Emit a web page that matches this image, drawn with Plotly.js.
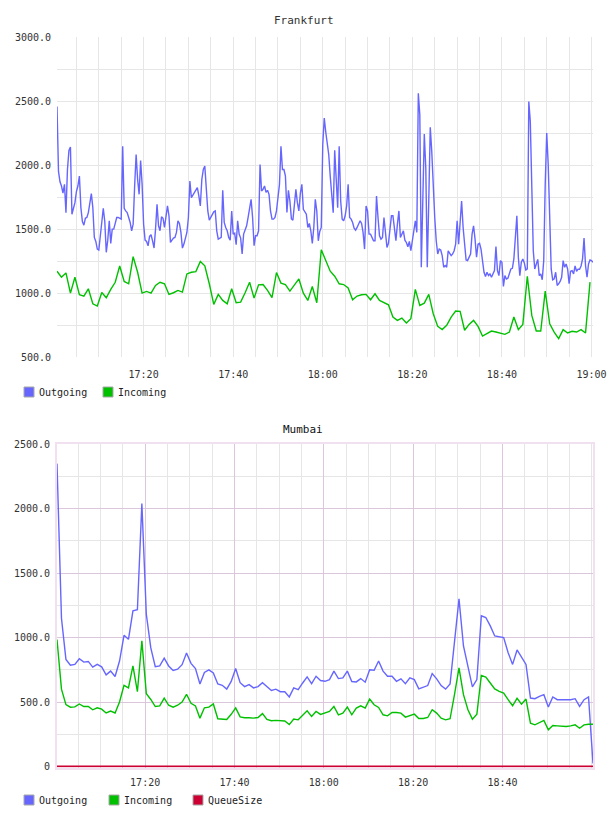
<!DOCTYPE html>
<html>
<head>
<meta charset="utf-8">
<script src="https://cdn.plot.ly/plotly-3.0.1.min.js"></script>
<style>
  html, body { margin: 0; padding: 0; background: #fff; }
  #chart { width: 608px; height: 816px; }
</style>
</head>
<body>
<div id="chart"></div>
<script>
// ---- Frankfurt: outgoing sampled every 20 s, incoming every minute ----
const frankfurtDay = '2013-06-12';
const frankfurtStart = '17:00:40';
const frankfurtOutgoingStep = 20;
const frankfurtIncomingStep = 60;

const frankfurtOutgoing = [
  2457, 1950, 1869, 1836, 1781, 1849, 1628, 1965, 2113, 2141,
  1615, 1662, 1706, 1792, 1836, 1913, 1667, 1558, 1530, 1584,
  1590, 1628, 1719, 1776, 1667, 1434, 1403, 1343, 1336, 1439,
  1564, 1662, 1558, 1318, 1413, 1564, 1388, 1499, 1499, 1551,
  1590, 1590, 1584, 1577, 2146, 1662, 1641, 1629, 1590, 1551,
  1486, 1538, 1836, 2082, 1887, 1771, 2035, 1849, 1538, 1413,
  1403, 1369, 1442, 1455, 1408, 1351, 1499, 1693, 1525, 1486,
  1595, 1584, 1512, 1590, 1680, 1603, 1395, 1413, 1429, 1434,
  1473, 1564, 1543, 1473, 1351, 1382, 1421, 1473, 1590, 1875,
  1745, 1766, 1779, 1805, 1823, 1758, 1680, 1887, 1965, 1991,
  1797, 1641, 1569, 1590, 1603, 1634, 1641, 1486, 1421, 1429,
  1434, 1802, 1551, 1512, 1486, 1434, 1413, 1641, 1460, 1468,
  1377, 1564, 1460, 1429, 1305, 1460, 1486, 1525, 1590, 1660,
  1732, 1590, 1369, 1447, 1447, 1486, 2004, 1797, 1810, 1836,
  1786, 1802, 1771, 1641, 1577, 1577, 1590, 1641, 1732, 1849,
  2146, 1965, 1965, 1913, 1629, 1802, 1719, 1579, 1569, 1667,
  1810, 1706, 1641, 1781, 1849, 1654, 1629, 1616, 1512, 1543,
  1486, 1388, 1512, 1732, 1641, 1408, 1481, 1512, 2159, 2367,
  2258, 2185, 2082, 1913, 1771, 1628, 2115, 1849, 1667, 2146,
  1719, 1577, 1564, 1603, 1680, 1849, 1590, 1577, 1551, 1507,
  1491, 1512, 1533, 1564, 1543, 1473, 1343, 1680, 1641, 1460,
  1460, 1429, 1408, 1408, 1758, 1590, 1447, 1421, 1434, 1590,
  1434, 1356, 1388, 1486, 1603, 1603, 1512, 1408, 1538, 1641,
  1434, 1455, 1486, 1413, 1395, 1361, 1403, 1330, 1421, 1481,
  1564, 1473, 2561, 2392, 1201, 1719, 2242, 1978, 1201, 1719,
  2294, 2108, 1771, 1590, 1408, 1305, 1343, 1336, 1292, 1201,
  1214, 1201, 1330, 1310, 1292, 1305, 1330, 1382, 1564, 1382,
  1525, 1719, 1512, 1343, 1258, 1253, 1274, 1305, 1460, 1525,
  1421, 1279, 1382, 1388, 1343, 1253, 1162, 1129, 1162, 1136,
  1149, 1123, 1157, 1175, 1362, 1175, 1136, 1253, 1240, 1051,
  1136, 1110, 1116, 1149, 1188, 1193, 1266, 1434, 1603, 1279,
  1136, 1240, 1266, 1235, 1180, 1188, 2496, 2341, 1849, 1330,
  1188, 1227, 1263, 1136, 1149, 1103, 1253, 1849, 2250, 2004,
  1538, 1188, 1103, 1110, 1162, 1059, 1072, 1090, 1123, 1253,
  1201, 1227, 1188, 1072, 1170, 1175, 1149, 1211, 1170, 1186,
  1186, 1211, 1266, 1429, 1214, 1123, 1227, 1258, 1253, 1240
];

const frankfurtIncoming = [
  1170, 1123, 1157, 999, 1123, 986, 976, 1033, 916, 898,
  1004, 963, 1028, 1084, 1211, 1090, 1072, 1284, 1162, 999,
  1012, 999, 1059, 1084, 1072, 989, 1002, 1020, 1007, 1149,
  1162, 1167, 1247, 1213, 1072, 911, 989, 942, 916, 1033,
  924, 929, 1002, 1084, 960, 1064, 1066, 1020, 963, 1160,
  1077, 1066, 1015, 1059, 1110, 999, 942, 1051, 924, 1338,
  1253, 1170, 1131, 1072, 1066, 1040, 947, 976, 986, 989,
  947, 994, 942, 924, 908, 812, 786, 804, 765, 799,
  1028, 903, 921, 989, 838, 739, 714, 747, 812, 859,
  857, 709, 755, 786, 739, 664, 683, 703, 695, 688,
  677, 695, 812, 714, 755, 1131, 825, 703, 703, 1015,
  760, 695, 644, 714, 688, 701, 695, 714, 688, 1085
];

// ---- Mumbai: all series sampled every minute ----
const mumbaiDay = '2013-06-12';
const mumbaiStart = '17:00:16';
const mumbaiStep = 60;

const mumbaiOutgoing = [
  2350, 1150, 831, 786, 792, 836, 810, 815, 771, 792,
  773, 711, 740, 698, 818, 1018, 987, 1208, 1216, 2040,
  1180, 920, 775, 780, 840, 780, 745, 755, 790, 880,
  800, 760, 640, 730, 750, 725, 640, 630, 600, 660,
  760, 650, 620, 635, 610, 620, 650, 620, 590, 600,
  580, 580, 540, 610, 596, 648, 695, 643, 700, 667,
  661, 674, 740, 682, 687, 740, 659, 656, 682, 654,
  750, 747, 818, 740, 700, 700, 661, 680, 643, 687,
  674, 602, 617, 628, 721, 680, 628, 600, 640, 980,
  1300, 935, 779, 617, 674, 1169, 1156, 1091, 1013, 1008,
  1000, 883, 792, 904, 844, 792, 531, 526, 544, 557,
  461, 539, 518, 518, 518, 518, 526, 466, 518, 539,
  23
];

const mumbaiIncoming = [
  985, 600, 480, 460, 462, 485, 465, 465, 440, 455,
  445, 415, 430, 415, 500, 630, 610, 780, 580, 975,
  565, 520, 465, 470, 530, 475, 460, 475, 500, 560,
  490, 470, 375, 455, 460, 485, 370, 370, 365, 405,
  455, 385, 378, 378, 375, 380, 410, 365, 355, 358,
  355, 353, 325, 368, 362, 401, 432, 388, 427, 404,
  414, 427, 466, 401, 414, 461, 401, 453, 471, 453,
  523, 479, 458, 401, 393, 419, 419, 414, 383, 393,
  406, 372, 372, 380, 440, 414, 375, 362, 370, 560,
  765, 557, 440, 367, 406, 706, 693, 648, 602, 583,
  570, 518, 471, 529, 484, 523, 336, 323, 341, 357,
  284, 318, 315, 310, 310, 315, 323, 297, 323, 328,
  328
];

const mumbaiQueueSize = [
  0, 0, 0, 0, 0, 0, 0, 0, 0, 0,
  0, 0, 0, 0, 0, 0, 0, 0, 0, 0,
  0, 0, 0, 0, 0, 0, 0, 0, 0, 0,
  0, 0, 0, 0, 0, 0, 0, 0, 0, 0,
  0, 0, 0, 0, 0, 0, 0, 0, 0, 0,
  0, 0, 0, 0, 0, 0, 0, 0, 0, 0,
  0, 0, 0, 0, 0, 0, 0, 0, 0, 0,
  0, 0, 0, 0, 0, 0, 0, 0, 0, 0,
  0, 0, 0, 0, 0, 0, 0, 0, 0, 0,
  0, 0, 0, 0, 0, 0, 0, 0, 0, 0,
  0, 0, 0, 0, 0, 0, 0, 0, 0, 0,
  0, 0, 0, 0, 0, 0, 0, 0, 0, 0,
  0
];

// ---- axis labels ----
const frankfurtYTicks = [500, 1000, 1500, 2000, 2500, 3000];
const frankfurtYLabels = ['500.0', '1000.0', '1500.0', '2000.0', '2500.0', '3000.0'];
const mumbaiYTicks = [0, 500, 1000, 1500, 2000, 2500];
const mumbaiYLabels = ['0', '500.0', '1000.0', '1500.0', '2000.0', '2500.0'];
const mumbaiXLabels = ['17:20', '17:40', '18:00', '18:20', '18:40'];

const seriesNames = ['Outgoing', 'Incoming', 'QueueSize'];
const seriesColors = ['#6666ff', '#00c000', '#cc0033'];

// ---- helpers ----
const pad = n => String(n).padStart(2, '0');
function timeline(day, start, stepSec, count) {
  const [h, m, s] = start.split(':').map(Number);
  const base = h * 3600 + m * 60 + s;
  const out = [];
  for (let i = 0; i < count; i++) {
    const t = base + i * stepSec;
    out.push(`${day} ${pad(Math.floor(t / 3600))}:${pad(Math.floor((t % 3600) / 60))}:${pad(t % 60)}`);
  }
  return out;
}

const W = 608, H = 816;
const px = x => x / W;
const py = y => 1 - y / H;
const FONT = '"DejaVu Sans Mono", monospace';
const TEXT = '#333333';
const LIGHT_GRID = '#e6e6e6';
const MAJOR_GRID = '#dcc6dc';
const FRAME = '#f0e0f0';

const traces = [
  { x: timeline(frankfurtDay, frankfurtStart, frankfurtOutgoingStep, frankfurtOutgoing.length),
    y: frankfurtOutgoing, name: seriesNames[0], xaxis: 'x', yaxis: 'y',
    type: 'scatter', mode: 'lines', line: { color: seriesColors[0], width: 1.4 } },
  { x: timeline(frankfurtDay, frankfurtStart, frankfurtIncomingStep, frankfurtIncoming.length),
    y: frankfurtIncoming, name: seriesNames[1], xaxis: 'x', yaxis: 'y',
    type: 'scatter', mode: 'lines', line: { color: seriesColors[1], width: 1.4 } },
  { x: timeline(mumbaiDay, mumbaiStart, mumbaiStep, mumbaiOutgoing.length),
    y: mumbaiOutgoing, name: seriesNames[0], xaxis: 'x2', yaxis: 'y2',
    type: 'scatter', mode: 'lines', line: { color: seriesColors[0], width: 1.4 } },
  { x: timeline(mumbaiDay, mumbaiStart, mumbaiStep, mumbaiIncoming.length),
    y: mumbaiIncoming, name: seriesNames[1], xaxis: 'x2', yaxis: 'y2',
    type: 'scatter', mode: 'lines', line: { color: seriesColors[1], width: 1.4 } },
  { x: timeline(mumbaiDay, mumbaiStart, mumbaiStep, mumbaiQueueSize.length),
    y: mumbaiQueueSize, name: seriesNames[2], xaxis: 'x2', yaxis: 'y2',
    type: 'scatter', mode: 'lines', line: { color: seriesColors[2], width: 1.8 } }
];

const tickFont = { family: FONT, size: 10, color: TEXT };
const xDomain = [px(57), px(593)];

const shapes = [];
const annotations = [
  { text: 'Frankfurt', xref: 'paper', yref: 'paper', x: px(304), y: py(20),
    xanchor: 'center', yanchor: 'middle', showarrow: false,
    font: { family: FONT, size: 11, color: TEXT } },
  { text: 'Mumbai', xref: 'paper', yref: 'paper', x: px(303), y: py(429),
    xanchor: 'center', yanchor: 'middle', showarrow: false,
    font: { family: FONT, size: 11, color: '#111' } }
];

// square swatch legends under each chart
function addLegend(names, lefts, centerY) {
  names.forEach((name, i) => {
    const color = seriesColors[seriesNames.indexOf(name)];
    shapes.push({ type: 'rect', xref: 'paper', yref: 'paper',
      x0: px(lefts[i]), x1: px(lefts[i] + 10), y0: py(centerY + 5), y1: py(centerY - 5),
      fillcolor: color, line: { color: '#a8a8a8', width: 1 } });
    annotations.push({ text: name, xref: 'paper', yref: 'paper',
      x: px(lefts[i] + 13), y: py(centerY), xanchor: 'left', yanchor: 'middle',
      showarrow: false, font: { family: FONT, size: 10, color: '#222' } });
  });
}
addLegend(['Outgoing', 'Incoming'], [24, 103], 392);
addLegend(['Outgoing', 'Incoming', 'QueueSize'], [24, 109, 193], 800);

const layout = {
  width: W, height: H,
  margin: { l: 0, r: 0, t: 0, b: 0 },
  paper_bgcolor: '#ffffff', plot_bgcolor: '#ffffff',
  showlegend: false,
  xaxis: {
    domain: xDomain, anchor: 'y', type: 'date',
    tickmode: 'linear', tick0: `${frankfurtDay} 17:00:00`, dtick: 20 * 60 * 1000,
    tickformat: '%H:%M', tickfont: tickFont, ticks: '', ticklabelstandoff: 10,
    ticklabeloverflow: 'allow',
    showgrid: true, gridcolor: LIGHT_GRID, gridwidth: 1,
    minor: { tickmode: 'linear', tick0: `${frankfurtDay} 17:00:00`, dtick: 5 * 60 * 1000,
             showgrid: true, gridcolor: LIGHT_GRID, gridwidth: 1 },
    zeroline: false, showline: false, fixedrange: true
  },
  yaxis: {
    domain: [py(357), py(37)], anchor: 'x', range: [500, 3000],
    tickmode: 'array', tickvals: frankfurtYTicks, ticktext: frankfurtYLabels,
    tickfont: tickFont, ticks: '', ticklabelstandoff: 5,
    showgrid: true, gridcolor: LIGHT_GRID, gridwidth: 1,
    minor: { tickmode: 'linear', tick0: 0, dtick: 250,
             showgrid: true, gridcolor: LIGHT_GRID, gridwidth: 1 },
    zeroline: false, showline: false, fixedrange: true
  },
  xaxis2: {
    domain: xDomain, anchor: 'y2', type: 'date',
    tickmode: 'array',
    tickvals: mumbaiXLabels.map(t => `${mumbaiDay} ${t}:00`), ticktext: mumbaiXLabels,
    tickfont: tickFont, ticks: '', ticklabelstandoff: 4,
    showgrid: true, gridcolor: MAJOR_GRID, gridwidth: 1,
    minor: { tickmode: 'linear', tick0: `${mumbaiDay} 17:00:00`, dtick: 5 * 60 * 1000,
             showgrid: true, gridcolor: LIGHT_GRID, gridwidth: 1 },
    zeroline: false, showline: true, mirror: true, linecolor: FRAME, linewidth: 2,
    layer: 'below traces', fixedrange: true
  },
  yaxis2: {
    domain: [py(767.5), py(444.3)], anchor: 'x2', range: [-8, 2500],
    tickmode: 'array', tickvals: mumbaiYTicks, ticktext: mumbaiYLabels,
    tickfont: tickFont, ticks: '', ticklabelstandoff: 3,
    showgrid: true, gridcolor: MAJOR_GRID, gridwidth: 1,
    minor: { tickmode: 'linear', tick0: 0, dtick: 250,
             showgrid: true, gridcolor: LIGHT_GRID, gridwidth: 1 },
    zeroline: false, showline: true, mirror: true, linecolor: FRAME, linewidth: 2,
    layer: 'below traces', fixedrange: true
  },
  shapes: shapes,
  annotations: annotations
};

Plotly.newPlot('chart', traces, layout, { staticPlot: true, displayModeBar: false });
</script>
</body>
</html>
